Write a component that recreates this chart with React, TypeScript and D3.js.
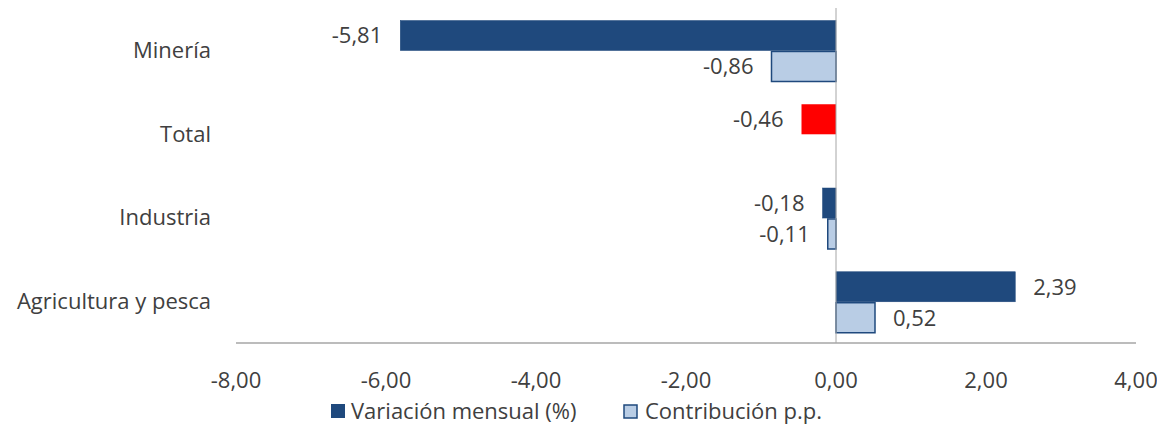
import React from "react";
import * as d3 from "d3";

const categories = ["Minería", "Total", "Industria", "Agricultura y pesca"];
const variacion: (number | null)[] = [-5.81, -0.46, -0.18, 2.39];
const contribucion: (number | null)[] = [-0.86, null, -0.11, 0.52];
const xTicks = [-8, -6, -4, -2, 0, 2, 4];
const seriesNames = ["Variación mensual (%)", "Contribución p.p."];

const W = 1157;
const H = 425;
const FONT = "'Open Sans', 'Noto Sans', sans-serif";
const FS = 22;
const TEXT = "#404040";
const DARK = "#1F497D";
const LIGHT = "#B9CDE5";

const fmt = (v: number) => v.toFixed(2).replace(".", ",");

export default function App() {
  const x = d3.scaleLinear().domain([-8, 4]).range([236, 1136]);
  const y = d3.scaleBand<string>().domain(categories).range([8, 343]);
  const inner = d3.scaleBand<string>().domain(["v", "c"]).range([12.5, 73.5]).paddingInner(0.03);

  const bars: React.ReactNode[] = [];
  categories.forEach((cat, i) => {
    const y0 = y(cat)!;
    const vals: [string, number | null][] = [["v", variacion[i]], ["c", contribucion[i]]];
    vals.forEach(([k, v]) => {
      if (v == null) return;
      const by = y0 + inner(k)!;
      const bh = inner.bandwidth();
      const x0 = x(Math.min(0, v));
      const x1 = x(Math.max(0, v));
      const isTotal = cat === "Total";
      const fill = isTotal ? "#FF0000" : k === "v" ? DARK : LIGHT;
      const stroke = isTotal ? "none" : DARK;
      bars.push(
        <rect key={cat + k} x={x0} y={by} width={x1 - x0} height={bh} fill={fill}
          stroke={stroke} strokeWidth={k === "c" ? 1.5 : 0.5} />
      );
      const lx = v < 0 ? x0 - 18 : x1 + 18;
      bars.push(
        <text key={cat + k + "l"} x={lx} y={by + bh / 2} dy="0.36em"
          textAnchor={v < 0 ? "end" : "start"} fontSize={FS} fill={TEXT} fontFamily={FONT}>
          {fmt(v)}
        </text>
      );
    });
  });

  return (
    <svg width={W} height={H} style={{ position: "absolute", left: 0, top: 0, background: "#fff" }}>
      {bars}
      <line x1={x(0)} x2={x(0)} y1={8} y2={343} stroke="#A6A6A6" strokeWidth={1} />
      <line x1={236} x2={1136} y1={343} y2={343} stroke="#A6A6A6" strokeWidth={1.3} />
      {xTicks.map((t) => (
        <text key={t} x={x(t)} y={388} textAnchor="middle" fontSize={FS} fill={TEXT} fontFamily={FONT}>
          {fmt(t)}
        </text>
      ))}
      {categories.map((c) => (
        <text key={c} x={211} y={y(c)! + y.bandwidth() / 2} dy="0.36em" textAnchor="end"
          fontSize={FS} fill={TEXT} fontFamily={FONT}>
          {c}
        </text>
      ))}
      <rect x={331} y={404} width={14} height={14} fill={DARK} />
      <text x={351} y={419} fontSize={FS} fill={TEXT} fontFamily={FONT}>{seriesNames[0]}</text>
      <rect x={624} y={405} width={13} height={13} fill={LIGHT} stroke={DARK} strokeWidth={1.5} />
      <text x={645} y={419} fontSize={FS} fill={TEXT} fontFamily={FONT}>{seriesNames[1]}</text>
    </svg>
  );
}
